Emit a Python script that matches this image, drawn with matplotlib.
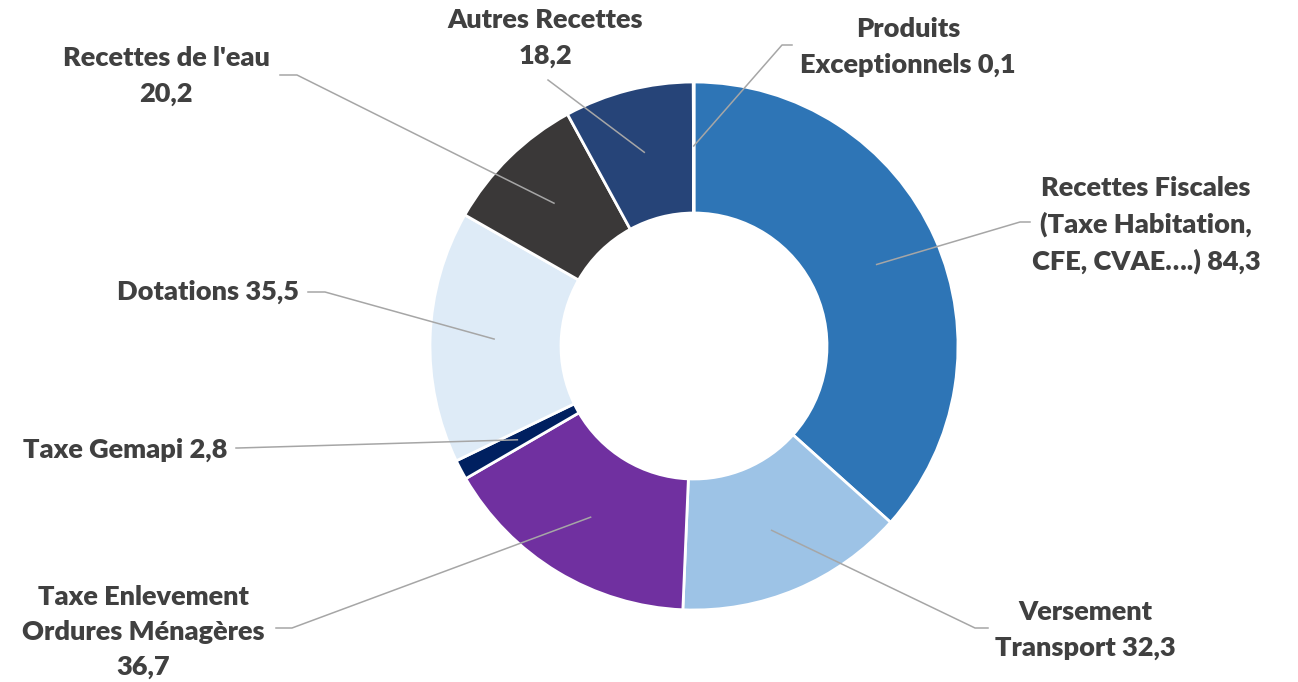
import numpy as np
import matplotlib.pyplot as plt

# data (clockwise from 12 o'clock)
labels = ["Recettes Fiscales\n(Taxe Habitation,\nCFE, CVAE….) 84,3",
          "Versement\nTransport 32,3",
          "Taxe Enlevement\nOrdures Ménagères\n36,7",
          "Taxe Gemapi 2,8",
          "Dotations 35,5",
          "Recettes de l'eau\n20,2",
          "Autres Recettes\n18,2",
          "Produits\nExceptionnels 0,1"]
values = [84.3, 32.3, 36.7, 2.8, 35.5, 20.2, 18.2, 0.1]
colors = ["#2E75B6", "#9DC3E6", "#7030A0", "#002060",
          "#DEEBF7", "#3A3838", "#264478", "#4472C4"]

# label layout in pixel coords (image y grows downward): text centre, elbow, line end
text_pos = [(1146, 225), (1085, 630), (143, 632), (125, 450),
            (208, 292), (166, 76), (545, 38), (908, 47)]
elbows = [(1020, 222), (975, 628), (292, 628), (238, 448),
          (325, 292), (297, 75), (548, 80), (782, 45)]
ends = [(1030, 222), (988, 628), (276, 628), (236, 448),
        (308, 292), (280, 75), (548, 80), (792, 45)]

W, H = 1298, 682
cx, cy, R, r_in = 694, 346, 264, 133

fig = plt.figure(figsize=(W / 100, H / 100), dpi=100)
ax = fig.add_axes([0, 0, 1, 1])
ax.axis('off')

wedges, _ = ax.pie(values, colors=colors, startangle=90, counterclock=False,
                   center=(cx, H - cy), radius=R,
                   wedgeprops=dict(width=R - r_in, edgecolor='white', linewidth=2))
ax.set_xlim(0, W)
ax.set_ylim(0, H)
ax.set_aspect('equal')

txt_color = '#404040'
for w, lab, tp, el, en in zip(wedges, labels, text_pos, elbows, ends):
    mid = np.deg2rad((w.theta1 + w.theta2) / 2)
    ax0 = cx + 200 * np.cos(mid)
    ay0 = (H - cy) + 200 * np.sin(mid)
    ax.plot([ax0, el[0], en[0]], [ay0, H - el[1], H - en[1]],
            color='#A6A6A6', lw=1.1, zorder=5)
    ax.text(tp[0], H - tp[1], lab, ha='center', va='center', fontsize=19.5,
            fontweight='heavy', color=txt_color, family='Lato', linespacing=1.55)

fig.savefig('out.png', dpi=100)
